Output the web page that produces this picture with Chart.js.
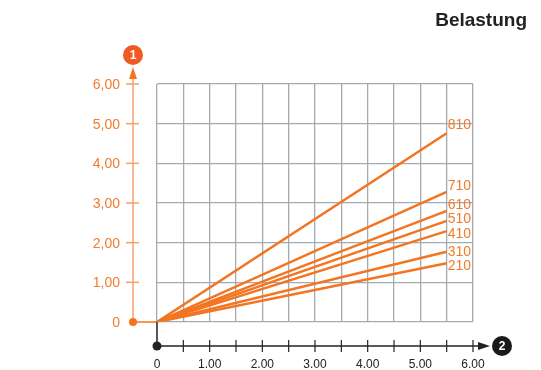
<!DOCTYPE html>
<html>
<head>
<meta charset="utf-8">
<script src="https://cdn.jsdelivr.net/npm/chart.js@4/dist/chart.umd.min.js"></script>
<style>
html,body{margin:0;padding:0;background:#fff;}
#wrap{position:relative;width:541px;height:370px;}
</style>
</head>
<body>
<div id="wrap"><canvas id="c" width="541" height="370"></canvas></div>
<script>
// ---- data ----
const seriesNames = ["210", "310", "410", "510", "610", "710", "810"];
const xEnd = 5.5;
const yEndValues = [1.48, 1.77, 2.29, 2.55, 2.80, 3.28, 4.76];
const xTickValues = [0, 1, 2, 3, 4, 5, 6];
const xTickLabels = ["0", "1.00", "2.00", "3.00", "4.00", "5.00", "6.00"];
const yTickValues = [0, 1, 2, 3, 4, 5, 6];
const yTickLabels = ["0", "1,00", "2,00", "3,00", "4,00", "5,00", "6,00"];
const titleText = "Belastung";

// ---- style ----
const ORANGE = "#f37521";
const ORANGE_LIGHT = "#f6a06a";
const ORANGE_TEXT = "#f27b2c";
const GRID = "#a3abb2";
const labelDy = {"210": 3, "310": 0, "410": 3, "510": -2, "610": -6, "710": -6, "810": -8};

const datasets = seriesNames.map((n, i) => ({
  label: n,
  data: [{x: 0, y: 0}, {x: xEnd, y: yEndValues[i]}],
  borderColor: ORANGE,
  borderWidth: 2.5,
  pointRadius: 0,
  fill: false,
  tension: 0
}));

const overlay = {
  id: "overlay",
  afterDraw(chart) {
    const ctx = chart.ctx;
    const xs = chart.scales.x, ys = chart.scales.y;
    const x0 = xs.getPixelForValue(0), y0 = ys.getPixelForValue(0);
    const yAxisX = x0 - 24;
    const xAxisY = y0 + 24;
    ctx.save();
    // y axis (orange)
    ctx.strokeStyle = ORANGE_LIGHT;
    ctx.lineWidth = 1.5;
    ctx.beginPath();
    ctx.moveTo(yAxisX, y0);
    ctx.lineTo(yAxisX, ys.getPixelForValue(6) - 6);
    ctx.stroke();
    // y arrow
    ctx.fillStyle = ORANGE;
    const yTop = ys.getPixelForValue(6);
    ctx.beginPath();
    ctx.moveTo(yAxisX, yTop - 17);
    ctx.lineTo(yAxisX - 4, yTop - 5);
    ctx.lineTo(yAxisX + 4, yTop - 5);
    ctx.closePath();
    ctx.fill();
    // y ticks + labels
    ctx.font = "14px 'Liberation Sans', Arial, sans-serif";
    ctx.textAlign = "right";
    ctx.textBaseline = "middle";
    yTickValues.forEach((v, i) => {
      const py = ys.getPixelForValue(v);
      if (v !== 0) {
        ctx.strokeStyle = ORANGE_LIGHT;
        ctx.beginPath();
        ctx.moveTo(yAxisX - 7, py);
        ctx.lineTo(yAxisX + 6, py);
        ctx.stroke();
      }
      ctx.fillStyle = ORANGE_TEXT;
      ctx.fillText(yTickLabels[i], yAxisX - 13, py + 1);
    });
    // orange baseline connector + dot
    ctx.strokeStyle = ORANGE;
    ctx.lineWidth = 1.5;
    ctx.beginPath();
    ctx.moveTo(yAxisX, y0);
    ctx.lineTo(x0, y0);
    ctx.stroke();
    ctx.fillStyle = ORANGE;
    ctx.beginPath();
    ctx.arc(yAxisX, y0, 4, 0, Math.PI * 2);
    ctx.fill();
    // circle 1
    ctx.fillStyle = "#f05a22";
    ctx.beginPath();
    ctx.arc(yAxisX, yTop - 29, 10, 0, Math.PI * 2);
    ctx.fill();
    ctx.fillStyle = "#fff";
    ctx.font = "bold 12px 'Liberation Sans', Arial, sans-serif";
    ctx.textAlign = "center";
    ctx.fillText("1", yAxisX, yTop - 29 + 1);

    // x axis (black)
    ctx.strokeStyle = "#222";
    ctx.lineWidth = 1.5;
    ctx.beginPath();
    ctx.moveTo(x0, y0);
    ctx.lineTo(x0, xAxisY);
    ctx.lineTo(xs.getPixelForValue(6) + 10, xAxisY);
    ctx.stroke();
    const xRight = xs.getPixelForValue(6);
    ctx.fillStyle = "#222";
    ctx.beginPath();
    ctx.moveTo(xRight + 17, xAxisY);
    ctx.lineTo(xRight + 5, xAxisY - 4);
    ctx.lineTo(xRight + 5, xAxisY + 4);
    ctx.closePath();
    ctx.fill();
    ctx.lineWidth = 1.2;
    for (let v = 0.5; v <= 6; v += 0.5) {
      const px = xs.getPixelForValue(v);
      ctx.beginPath();
      ctx.moveTo(px, xAxisY - 6);
      ctx.lineTo(px, xAxisY + 6);
      ctx.stroke();
    }
    ctx.beginPath();
    ctx.arc(x0, xAxisY, 4.5, 0, Math.PI * 2);
    ctx.fill();
    // circle 2
    ctx.fillStyle = "#1a1a1a";
    ctx.beginPath();
    ctx.arc(xRight + 29, xAxisY, 10, 0, Math.PI * 2);
    ctx.fill();
    ctx.fillStyle = "#fff";
    ctx.font = "bold 12px 'Liberation Sans', Arial, sans-serif";
    ctx.textAlign = "center";
    ctx.textBaseline = "middle";
    ctx.fillText("2", xRight + 29, xAxisY + 1);
    // x labels
    ctx.fillStyle = "#222";
    ctx.font = "12px 'Liberation Sans', Arial, sans-serif";
    xTickValues.forEach((v, i) => {
      ctx.fillText(xTickLabels[i], xs.getPixelForValue(v), xAxisY + 19);
    });

    // series end labels
    ctx.fillStyle = ORANGE_TEXT;
    ctx.font = "14px 'Liberation Sans', Arial, sans-serif";
    ctx.textAlign = "left";
    ctx.textBaseline = "middle";
    chart.data.datasets.forEach((ds, i) => {
      const meta = chart.getDatasetMeta(i);
      const pt = meta.data[meta.data.length - 1];
      ctx.fillText(ds.label, pt.x + 1, pt.y + (labelDy[ds.label] || 0));
    });

    // title
    ctx.fillStyle = "#222";
    ctx.font = "bold 19px 'Liberation Sans', Arial, sans-serif";
    ctx.textAlign = "right";
    ctx.textBaseline = "alphabetic";
    ctx.fillText(titleText, 527, 26);
    ctx.restore();
  }
};

new Chart(document.getElementById("c"), {
  type: "line",
  data: { datasets },
  options: {
    responsive: false,
    animation: false,
    events: [],
    layout: { padding: { left: 157, right: 68, top: 84, bottom: 48 } },
    plugins: { legend: { display: false }, tooltip: { enabled: false }, title: { display: false } },
    scales: {
      x: {
        type: "linear", min: 0, max: 6,
        ticks: { display: false, stepSize: 0.5 },
        grid: { color: GRID, lineWidth: 1.3, drawTicks: false },
        border: { display: false },
        afterFit(s) { s.height = 0; }
      },
      y: {
        type: "linear", min: 0, max: 6,
        ticks: { display: false, stepSize: 1 },
        grid: { color: GRID, lineWidth: 1.3, drawTicks: false },
        border: { display: false },
        afterFit(s) { s.width = 0; }
      }
    }
  },
  plugins: [overlay]
});
</script>
</body>
</html>
